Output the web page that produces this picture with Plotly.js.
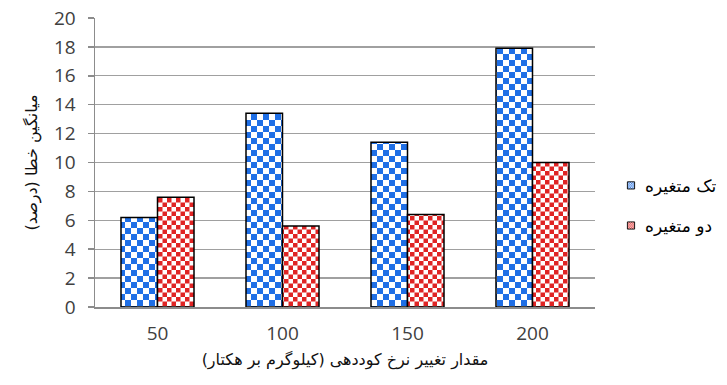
<!DOCTYPE html>
<html>
<head>
<meta charset="utf-8">
<script src="https://cdn.plot.ly/plotly-3.0.1.min.js"></script>
<style>html,body{margin:0;padding:0;background:#fff;}</style>
</head>
<body>
<div id="chart" style="width:727px;height:385px;"></div>
<script>
const categories = ["50", "100", "150", "200"];
const seriesNames = ["تک متغیره", "دو متغیره"];
const singleVar = [6.2, 13.4, 11.4, 17.9];
const doubleVar = [7.6, 5.6, 6.4, 10.0];
const yTicks = [0, 2, 4, 6, 8, 10, 12, 14, 16, 18, 20];
const xTitle = "مقدار تغییر نرخ کوددهی (کیلوگرم بر هکتار)";
const yTitle = "میانگین خطا (درصد)";

const faFont = "DejaVu Sans, sans-serif";
const numFont = "Open Sans, sans-serif";

const traces = [
  {type: "bar", name: seriesNames[0], x: categories, y: singleVar, legendgroup: "a",
   marker: {color: "#1f6fe6", line: {color: "#000", width: 1.5}}},
  {type: "bar", name: seriesNames[1], x: categories, y: doubleVar, legendgroup: "b",
   marker: {color: "#e02424", line: {color: "#000", width: 1.5}}}
];

const layout = {
  width: 727, height: 385,
  margin: {l: 95, r: 132, t: 18, b: 78, autoexpand: false},
  paper_bgcolor: "#fff", plot_bgcolor: "#fff",
  barmode: "group", bargap: 0.416, bargroupgap: 0,
  showlegend: true,
  legend: {x: 1.02, y: 0.35, xanchor: "left", yanchor: "middle", tracegroupgap: 15,
           font: {family: faFont, size: 17, color: "#000"}, bgcolor: "rgba(0,0,0,0)"},
  xaxis: {type: "category", showgrid: false, showline: true, linecolor: "#8c8c8c", linewidth: 1.5,
          ticks: "", ticklabelstandoff: 9,
          tickfont: {family: numFont, size: 19, color: "#404040"},
          title: {text: xTitle, font: {family: faFont, size: 16, color: "#111"}, standoff: 8}},
  yaxis: {range: [0, 20], tickvals: yTicks, ticktext: yTicks.map(String),
          showgrid: true, gridcolor: "#a0a0a0", gridwidth: 1.3,
          showline: true, linecolor: "#8c8c8c", linewidth: 1.5, zeroline: false,
          ticks: "outside", ticklen: 6, tickcolor: "#8c8c8c", tickwidth: 1.5,
          ticklabelstandoff: 8,
          tickfont: {family: numFont, size: 19, color: "#404040"},
          title: {text: yTitle, font: {family: faFont, size: 16, color: "#111"}, standoff: 12}}
};

function addCheckers(gd) {
  const svg = gd.querySelector("svg.main-svg");
  const ns = "http://www.w3.org/2000/svg";
  let defs = svg.querySelector("defs");
  if (!defs) { defs = document.createElementNS(ns, "defs"); svg.insertBefore(defs, svg.firstChild); }
  function mk(id, color, s) {
    const p = document.createElementNS(ns, "pattern");
    p.setAttribute("id", id);
    p.setAttribute("patternUnits", "userSpaceOnUse");
    p.setAttribute("width", 2 * s); p.setAttribute("height", 2 * s);
    const bg = document.createElementNS(ns, "rect");
    bg.setAttribute("width", 2 * s); bg.setAttribute("height", 2 * s); bg.setAttribute("fill", "#fff");
    p.appendChild(bg);
    [[0, 0], [s, s]].forEach(([a, b]) => {
      const r = document.createElementNS(ns, "rect");
      r.setAttribute("x", a); r.setAttribute("y", b);
      r.setAttribute("width", s); r.setAttribute("height", s); r.setAttribute("fill", color);
      p.appendChild(r);
    });
    defs.appendChild(p);
  }
  mk("chkBlue", "#1f6fe6", 6);
  mk("chkRed", "#e02424", 4.5);
  mk("chkBlueS", "#1f6fe6", 2);
  mk("chkRedS", "#e02424", 1.5);
  const ids = ["chkBlue", "chkRed"];
  gd.querySelectorAll(".barlayer .trace.bars").forEach((t, i) => {
    t.querySelectorAll(".point path").forEach(p => { p.style.fill = "url(#" + ids[i] + ")"; });
  });
  const sids = ["chkBlueS", "chkRedS"];
  gd.querySelectorAll(".legend .traces").forEach((t, i) => {
    t.querySelectorAll(".legendpoints path").forEach(p => {
      p.style.fill = "url(#" + sids[i] + ")";
      p.setAttribute("transform", "translate(26,0) scale(0.6)");
    });
  });
}

Plotly.newPlot("chart", traces, layout, {staticPlot: true, displayModeBar: false}).then(addCheckers);
</script>
</body>
</html>
